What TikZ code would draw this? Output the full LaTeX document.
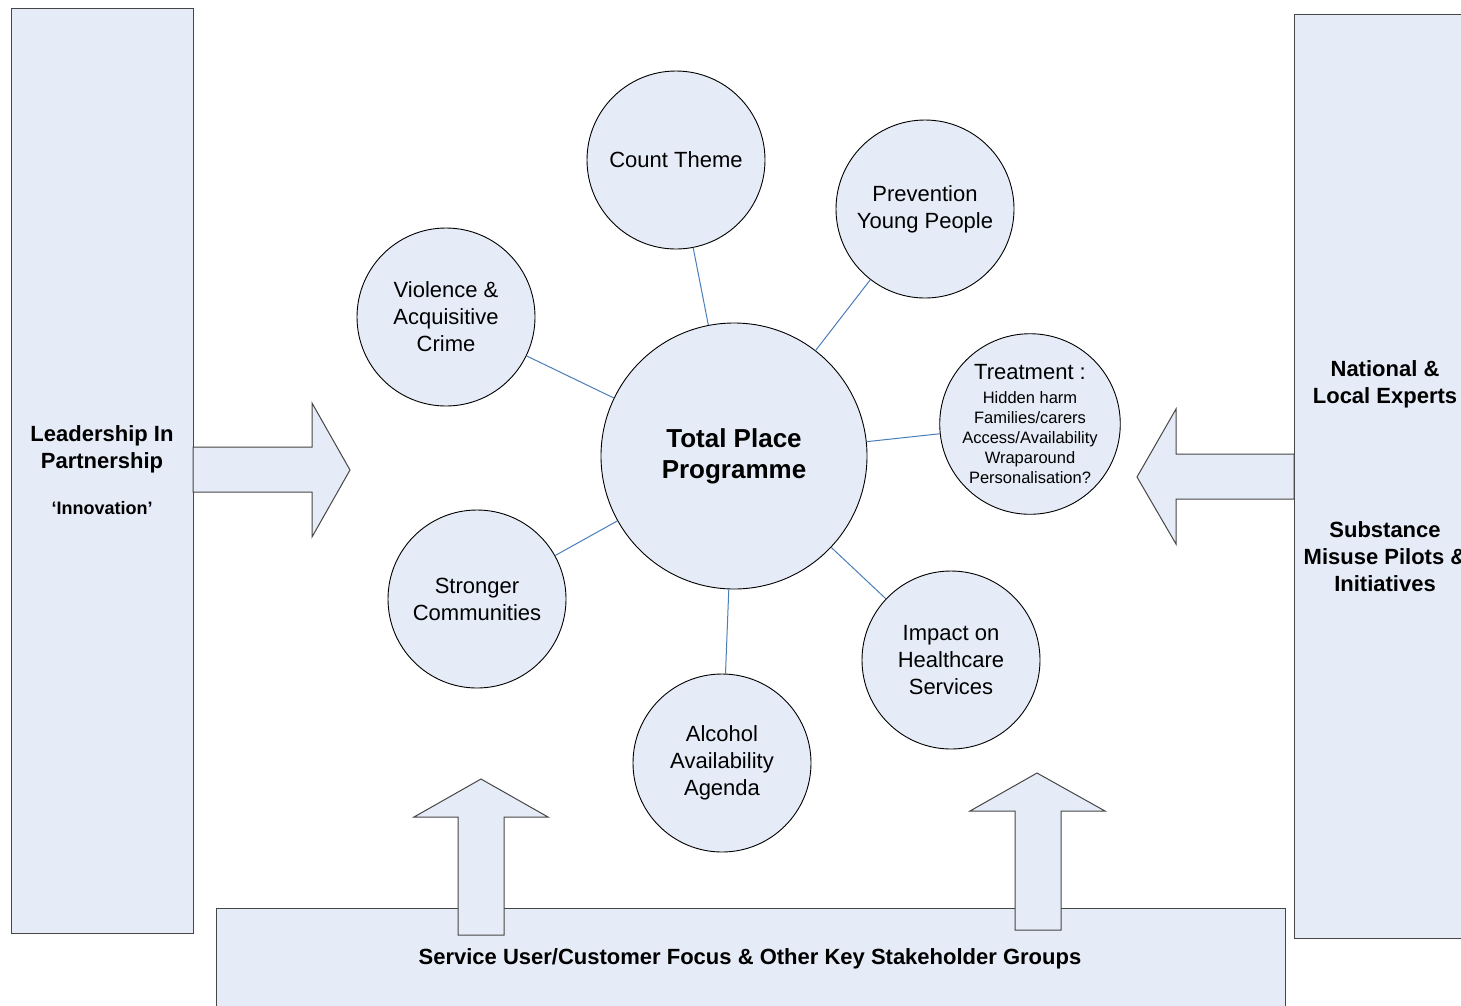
\documentclass[tikz,border=0pt]{standalone}
\usepackage{fontspec}
\setmainfont{Liberation Sans}
\definecolor{boxfill}{RGB}{230,236,247}
\definecolor{linkblue}{RGB}{74,126,187}
\definecolor{boxline}{RGB}{70,70,70}
\tikzset{
	theme/.style={circle,draw=black,fill=boxfill,line width=0.9pt,minimum size=178pt,inner sep=0pt,align=center,font=\fontsize{22}{27}\selectfont},
	link/.style={draw=linkblue,line width=1pt},
	panel/.style={draw=boxline,fill=boxfill,line width=1pt},
	paneltext/.style={align=center,font=\bfseries\fontsize{22}{27}\selectfont}
}

\begin{document}
\begin{tikzpicture}[x=1pt,y=-1pt]
		\clip (0,0) rectangle (1461,1005);
		\fill[white] (0,0) rectangle (1461,1005);
		% panels round the programme
		\draw[panel] (11,8) rectangle (193,933);
		\draw[panel] (1294,14) rectangle (1480,938);
		\draw[panel] (216,908) rectangle (1285,1020);
		% block arrows
		\draw[panel] (193,447) -- (312,447) -- (312,403) -- (350,470) -- (312,537) -- (312,492) -- (193,492) -- cycle;
		\draw[panel] (1294,454) -- (1176,454) -- (1176,409) -- (1137,477) -- (1176,544) -- (1176,499) -- (1294,499) -- cycle;
		\draw[panel] (458,935) -- (458,817) -- (414,817) -- (481,779) -- (548,817) -- (504,817) -- (504,935) -- cycle;
		\draw[panel] (1015,930) -- (1015,811) -- (970,811) -- (1037,773) -- (1105,811) -- (1061,811) -- (1061,930) -- cycle;
		\node[paneltext] (lead) at (102,449) {Leadership In\\Partnership};
		\node[paneltext,font=\bfseries\fontsize{18}{22}\selectfont] (innov) at (102,508) {‘Innovation’};
		\node[paneltext] (experts) at (1385,384) {National \&\\Local Experts};
		\node[paneltext] (pilots) at (1385,557) {Substance\\Misuse Pilots \&\\Initiatives};
		\node[paneltext] (users) at (750,959) {Service User/Customer Focus \& Other Key Stakeholder Groups};
		% themes
		\node[theme,minimum size=266pt,font=\bfseries\fontsize{26}{31}\selectfont] (tpp) at (734,456) {Total Place\\Programme};
		\node[theme] (count) at (676,160) {Count Theme};
		\node[theme] (prev) at (925,209) {Prevention\\Young People};
		\node[theme] (viol) at (446,317) {Violence \&\\Acquisitive\\Crime};
		\node[theme,font=\fontsize{16.5}{20}\selectfont] (treat) at (1030,424) {{\fontsize{22}{27}\selectfont Treatment :}\\[4pt]Hidden harm\\Families/carers\\Access/Availability\\Wraparound\\Personalisation?};
		\node[theme] (strong) at (477,599) {Stronger\\Communities};
		\node[theme] (impact) at (951,660) {Impact on\\Healthcare\\Services};
		\node[theme] (alc) at (722,763) {Alcohol\\Availability\\Agenda};
		\foreach \t in {count,prev,viol,treat,strong,impact,alc}
			\draw[link] (tpp) -- (\t);
	\end{tikzpicture}
\end{document}
